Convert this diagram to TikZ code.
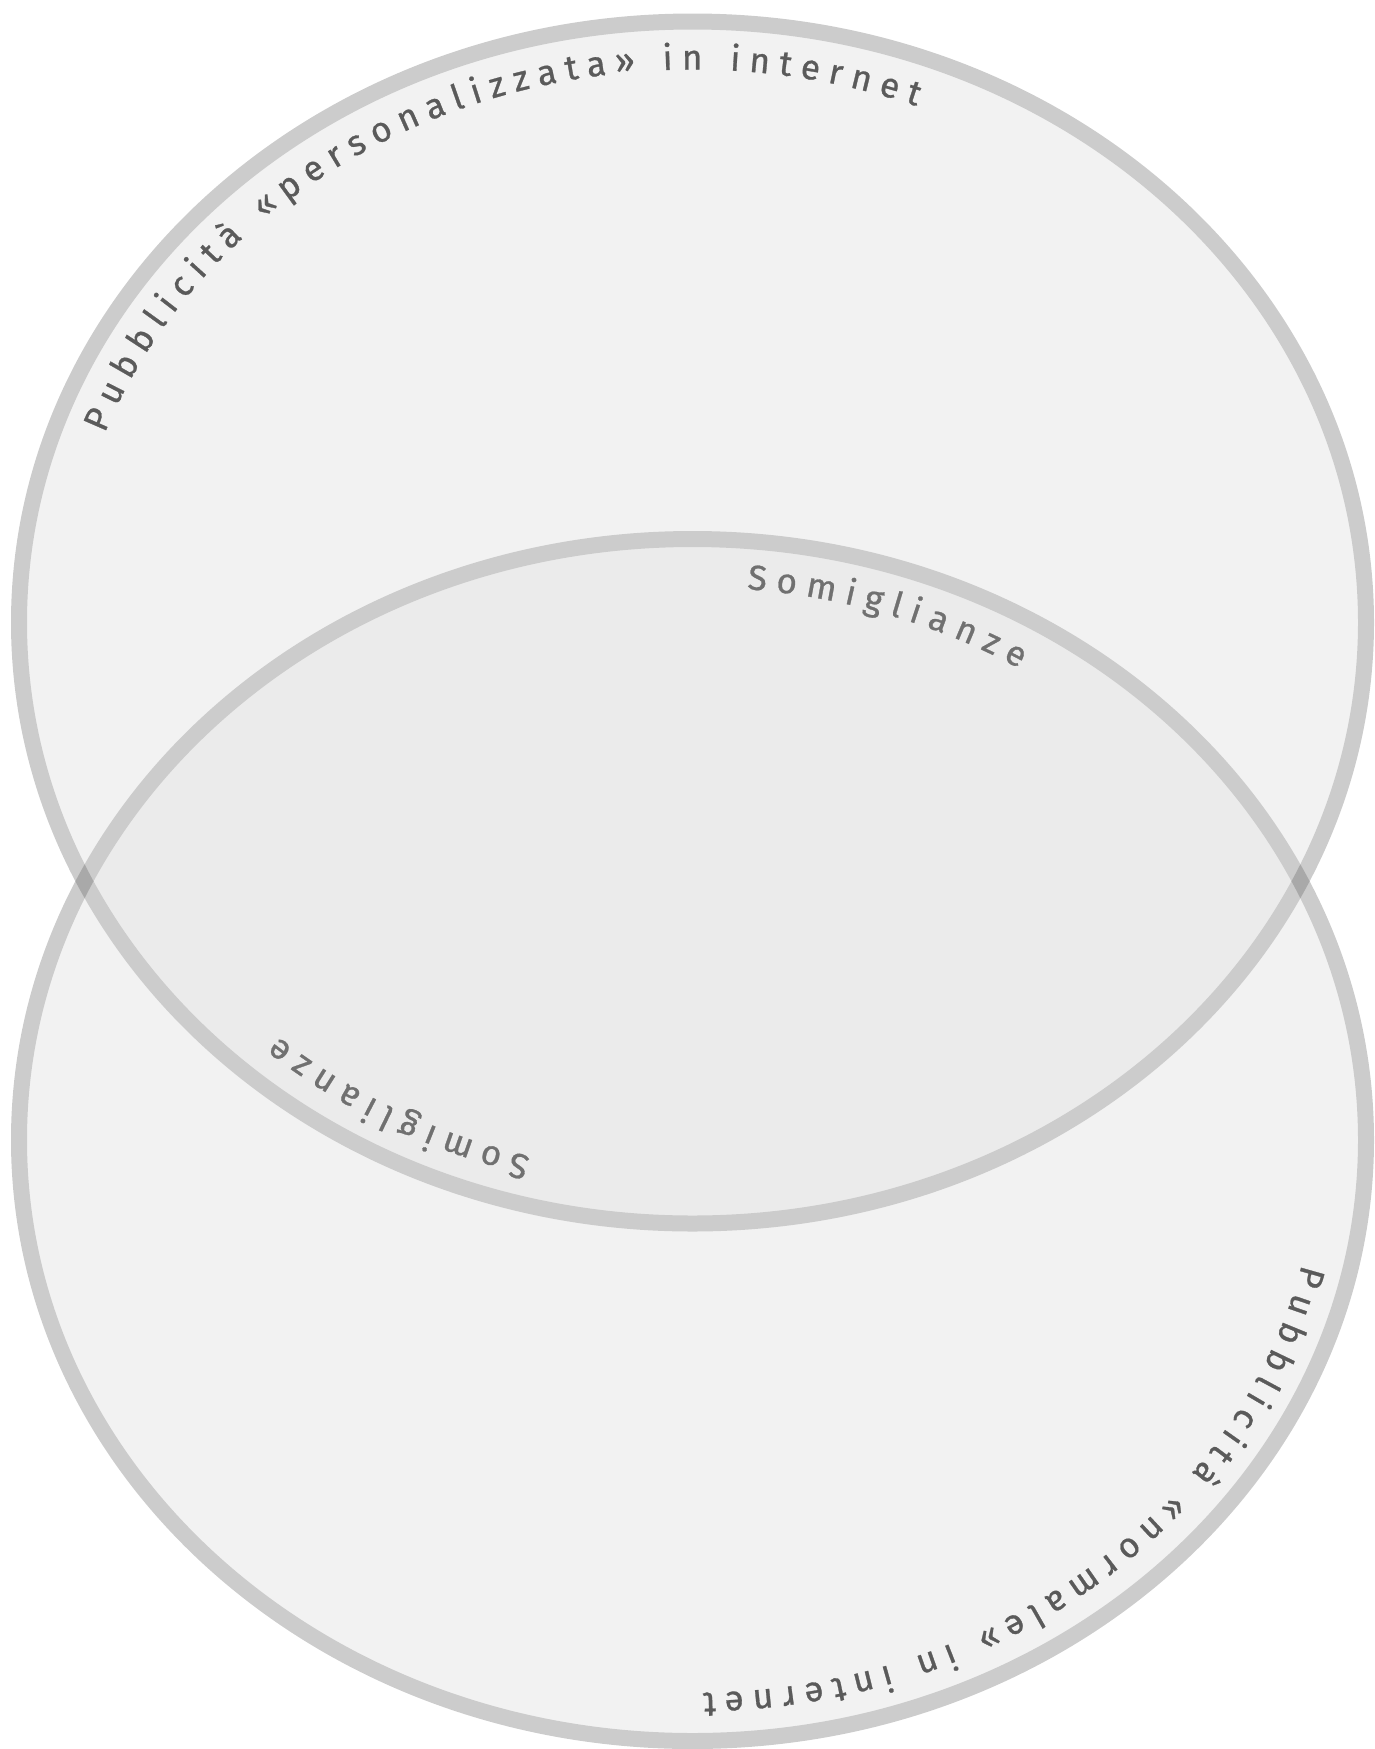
\documentclass[tikz,border=0pt]{standalone}
\usepackage{fontspec}
\setmainfont{Fira Sans}
\newfontfamily\labelfont[FakeBold=0.8]{Fira Sans}
\usetikzlibrary{decorations.text}
\definecolor{fillA}{HTML}{F2F2F2}
\definecolor{fillB}{HTML}{EBEBEB}
\definecolor{ringC}{HTML}{CCCCCC}
\definecolor{ringX}{HTML}{A9A9A9}
\definecolor{labelA}{HTML}{5A5A5A}
\definecolor{labelB}{HTML}{707070}
\begin{document}
\begin{tikzpicture}[x=1pt,y=1pt,
  ring/.style={draw=ringC, line width=16pt},
  oval/.style={x radius=673.5, y radius=601},
]
\useasboundingbox (0,0) rectangle (1375,-1749);
\coordinate (ctop) at (692.5,-622.5);
\coordinate (cbot) at (692.5,-1140);
\fill[fillA] (ctop) ellipse[oval];
\fill[fillA] (cbot) ellipse[oval];
\begin{scope}
  \clip (ctop) ellipse[oval];
  \fill[fillB] (cbot) ellipse[oval];
\end{scope}
\draw[ring] (ctop) ellipse[oval];
\draw[ring] (cbot) ellipse[oval];
% darker patches where the two rings cross
\begin{scope}[even odd rule]
  \clip (cbot) ellipse[x radius=681.5, y radius=609]
        (cbot) ellipse[x radius=665.5, y radius=593];
  \draw[draw=ringX, line width=16pt] (ctop) ellipse[oval];
\end{scope}
% curved labels
\path[decorate, decoration={text along path, text align={fit to path}, text color=labelA,
  text={|\labelfont\fontsize{35}{40}\selectfont|Pubblicità «personalizzata» in internet}}]
  ([shift={(160:625.5 and 553)}]ctop) arc[start angle=160, end angle=69, x radius=625.5, y radius=553];
\path[decorate, decoration={text along path, text align={fit to path}, text color=labelA,
  text={|\labelfont\fontsize{35}{40}\selectfont|Pubblicità «normale» in internet}}]
  ([shift={(-13:625.5 and 553)}]cbot) arc[start angle=-13, end angle=-89, x radius=625.5, y radius=553];
\path[decorate, decoration={text along path, text align={fit to path}, text color=labelB,
  text={|\labelfont\fontsize{35}{40}\selectfont|Somiglianze}}]
  ([shift={(85:625.5 and 553)}]cbot) arc[start angle=85, end angle=58.5, x radius=625.5, y radius=553];
\path[decorate, decoration={text along path, text align={fit to path}, text color=labelB,
  text={|\labelfont\fontsize{35}{40}\selectfont|Somiglianze}}]
  ([shift={(255:625.5 and 553)}]ctop) arc[start angle=255, end angle=228.5, x radius=625.5, y radius=553];
\end{tikzpicture}
\end{document}
